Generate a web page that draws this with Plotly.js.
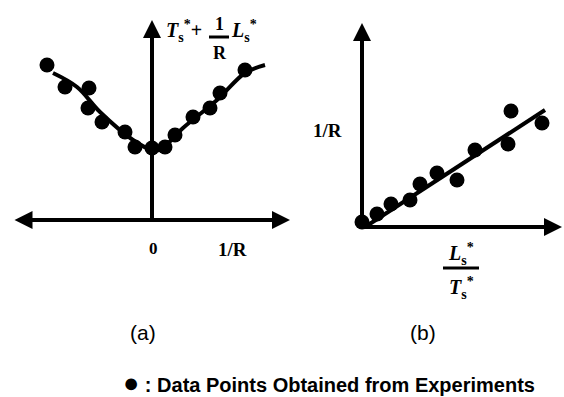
<!DOCTYPE html>
<html>
<head>
<meta charset="utf-8">
<script src="https://cdn.plot.ly/plotly-3.0.1.min.js"></script>
<style>html,body{margin:0;padding:0;background:#fff;}#chart{width:564px;height:397px;}</style>
</head>
<body>
<div id="chart"></div>
<script>
// Panel (a): experimental points, x = 1/R, y = T* + (1/R) L*
const aPointsX = [-1.05, -0.87, -0.63, -0.64, -0.50, -0.27, -0.17, 0.00, 0.13, 0.23, 0.41, 0.58, 0.68, 0.93];
const aPointsY = [1.55, 1.33, 1.32, 1.12, 0.98, 0.88, 0.73, 0.72, 0.73, 0.85, 1.03, 1.12, 1.27, 1.50];
// Panel (a): fitted curve
const aFitX = [-0.99, -0.75, -0.52, -0.19, 0.00, 0.08, 0.31, 0.65, 0.93, 1.13];
const aFitY = [1.47, 1.33, 1.08, 0.80, 0.70, 0.70, 0.92, 1.20, 1.47, 1.55];
// Panel (b): experimental points, x = L*/T*, y = 1/R
const bPointsX = [0.00, 0.15, 0.29, 0.48, 0.58, 0.75, 0.95, 1.13, 1.46, 1.49, 1.80];
const bPointsY = [0.05, 0.13, 0.23, 0.27, 0.43, 0.54, 0.47, 0.77, 0.83, 1.16, 1.04];
// Panel (b): fitted line
const bFitX = [0.03, 1.83];
const bFitY = [0.00, 1.17];
// Texts
const panelLabels = ["(a)", "(b)"];
const legendSymbol = "\u25CF";
const legendText = " : Data Points Obtained from Experiments";

const W = 564, H = 397;
const px = v => v / W;
const py = v => 1 - v / H;

const traces = [
  {x: aFitX, y: aFitY, xaxis: 'x', yaxis: 'y', mode: 'lines', line: {color: '#000', width: 4, shape: 'spline'}, hoverinfo: 'skip'},
  {x: aPointsX, y: aPointsY, xaxis: 'x', yaxis: 'y', mode: 'markers', marker: {color: '#000', size: 15}, cliponaxis: false},
  {x: bFitX, y: bFitY, xaxis: 'x2', yaxis: 'y2', mode: 'lines', line: {color: '#000', width: 4}, hoverinfo: 'skip'},
  {x: bPointsX, y: bPointsY, xaxis: 'x2', yaxis: 'y2', mode: 'markers', marker: {color: '#000', size: 15}, cliponaxis: false}
];

const hidden = {visible: false, fixedrange: true};
const serif = 'Liberation Serif, Times New Roman, serif';
const sans = 'Liberation Sans, Arial, sans-serif';

function arrow(xref, yref, x, y, ax, ay, both) {
  return {xref: xref, yref: yref, axref: xref, ayref: yref, x: x, y: y, ax: ax, ay: ay,
    text: '', showarrow: true, arrowhead: 2, arrowsize: 0.9, arrowwidth: 4, arrowcolor: '#000',
    arrowside: both ? 'end+start' : 'end', standoff: 0, startstandoff: 0};
}
function txt(x, y, text, size, family, extra) {
  return Object.assign({xref: 'paper', yref: 'paper', x: px(x), y: py(y), text: text, showarrow: false,
    xanchor: 'center', yanchor: 'middle', font: {size: size, family: family, color: '#000'}}, extra || {});
}

const annotations = [
  arrow('x', 'y', 1.38, 0, -1.39, 0, true),
  arrow('x', 'y', 0, 2.0, 0, 0, false),
  arrow('x2', 'y2', 2.0, 0, 0, 0, false),
  arrow('x2', 'y2', 0, 2.04, 0, 0, false),
  // y title of (a): T* + (1/R) L*
  txt(184, 31, '<b><i>T</i><sub>s</sub><sup>*</sup>+</b>', 20, serif),
  txt(219, 24, '<b>1</b>', 18, serif),
  txt(220, 53, '<b>R</b>', 18, serif),
  txt(244, 31, '<b><i>L</i><sub>s</sub><sup>*</sup></b>', 20, serif),
  txt(153, 248, '<b>0</b>', 17, serif),
  txt(232, 250, '<b>1/R</b>', 19, serif),
  txt(327, 130, '<b>1/R</b>', 19, serif),
  txt(461, 254, '<b><i>L</i><sub>s</sub><sup>*</sup></b>', 20, serif),
  txt(461, 288, '<b><i>T</i><sub>s</sub><sup>*</sup></b>', 20, serif),
  txt(143, 332, panelLabels[0], 21, sans),
  txt(423, 332, panelLabels[1], 21, sans),
  txt(121, 383, '<b><span style="font-size:27px">' + legendSymbol + '</span>' + legendText + '</b>', 20, sans, {xanchor: 'left'})
];

const shapes = [
  {type: 'line', xref: 'paper', yref: 'paper', x0: px(209), x1: px(229), y0: py(37), y1: py(37), line: {color: '#000', width: 3}},
  {type: 'line', xref: 'paper', yref: 'paper', x0: px(443), x1: px(479), y0: py(268), y1: py(268), line: {color: '#000', width: 3}}
];

const layout = {
  width: W, height: H,
  margin: {l: 0, r: 0, t: 0, b: 0, pad: 0},
  paper_bgcolor: '#fff', plot_bgcolor: '#fff',
  showlegend: false,
  xaxis: Object.assign({domain: [px(12), px(292)], range: [-1.4, 1.4]}, hidden),
  yaxis: Object.assign({domain: [py(240), py(20)], range: [-0.2, 2.0]}, hidden),
  xaxis2: Object.assign({domain: [px(312), px(564)], range: [-0.5, 2.02], anchor: 'y2'}, hidden),
  yaxis2: Object.assign({domain: [py(240), py(20)], range: [-0.13, 2.07], anchor: 'x2'}, hidden),
  annotations: annotations,
  shapes: shapes
};

Plotly.newPlot('chart', traces, layout, {staticPlot: true, displayModeBar: false});
</script>
</body>
</html>
